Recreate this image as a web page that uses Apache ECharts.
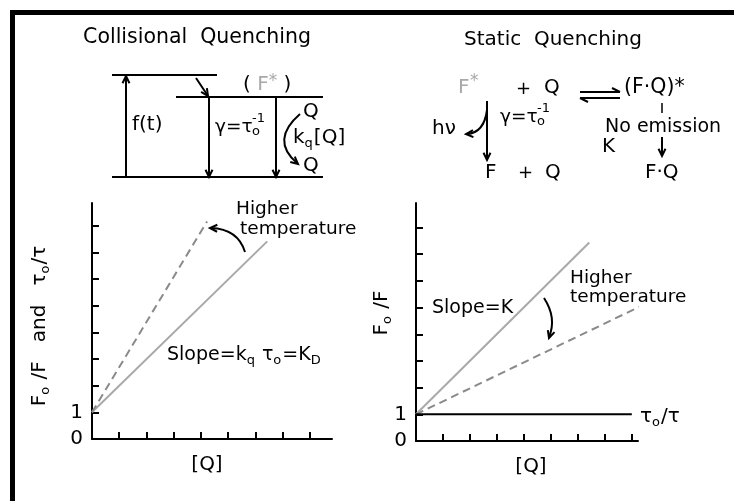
<!DOCTYPE html>
<html><head><meta charset="utf-8">
<script src="https://cdn.jsdelivr.net/npm/echarts@6/dist/echarts.min.js"></script>
<style>html,body{margin:0;padding:0;background:#fff}#c{width:734px;height:501px}</style>
</head><body><div id="c"></div>
<script>
// ---- data ----
const collisionalSolid = [[0, 1], [6.44, 7.41]];
const collisionalDashed = [[0, 1], [4.23, 8.16]];
const staticSolid = [[0, 1], [6.44, 7.44]];
const staticDashed = [[0, 1], [8.57, 5.16]];
const staticLifetime = [[0, 1], [8.02, 1]];
const qTicks = [1, 2, 3, 4, 5, 6, 7, 8];
const yTicks = [1, 2, 3, 4, 5, 6, 7, 8];
const yTickLabels = [0, 1];

const FONT = '"DejaVu Sans", sans-serif';
const GREY = '#a9a9a9';
const DGREY = '#8a8a8a';

function T(x, y, text, size, o) {
  o = o || {};
  return { type: 'text', x: x, y: y, rotation: o.rot || 0, z: 10,
    style: { text: text, font: (size) + 'px ' + FONT, fill: o.fill || '#000',
      textAlign: o.align || 'left', align: o.align || 'left',
      textVerticalAlign: o.va || 'middle', verticalAlign: o.va || 'middle',
      rich: o.rich } };
}
function L(x1, y1, x2, y2, w) {
  return { type: 'line', z: 10, shape: { x1: x1, y1: y1, x2: x2, y2: y2 },
    style: { stroke: '#000', lineWidth: w || 2 } };
}
function head(x, y, dx, dy, size) {
  size = size || 8;
  const len = Math.hypot(dx, dy), ux = -dx / len, uy = -dy / len, a = 0.45;
  const p1 = [x + size * (ux * Math.cos(a) - uy * Math.sin(a)), y + size * (ux * Math.sin(a) + uy * Math.cos(a))];
  const p2 = [x + size * (ux * Math.cos(-a) - uy * Math.sin(-a)), y + size * (ux * Math.sin(-a) + uy * Math.cos(-a))];
  return { type: 'polyline', z: 10, shape: { points: [p1, [x, y], p2] },
    style: { stroke: '#000', lineWidth: 2, fill: null } };
}
function curve(x1, y1, cx, cy, x2, y2) {
  return { type: 'bezierCurve', z: 10, shape: { x1: x1, y1: y1, cpx1: cx, cpy1: cy, x2: x2, y2: y2 },
    style: { stroke: '#000', lineWidth: 2, fill: null } };
}
function richSub(big, small) {
  return {
    n: { font: big + 'px ' + FONT, fill: '#000', lineHeight: 24 },
    s: { font: small + 'px ' + FONT, fill: '#000', verticalAlign: 'bottom', lineHeight: 13, padding: [0, 1, 0, 0] }
  };
}

const graphics = [
  // frame
  { type: 'rect', shape: { x: 10, y: 10, width: 724, height: 5 }, style: { fill: '#000' } },
  { type: 'rect', shape: { x: 10, y: 10, width: 5, height: 491 }, style: { fill: '#000' } },
  // titles
  T(197, 38, 'Collisional  Quenching', 20.5, { align: 'center' }),
  T(553, 40, 'Static  Quenching', 20, { align: 'center' }),
  // collisional energy diagram
  L(112, 75, 217, 75), L(176, 97, 323, 97), L(112, 177, 323, 177),
  L(126, 177, 126, 77), head(126, 76, 0, -1),
  T(132, 125, 'f(t)', 20),
  L(196, 78, 208, 96), head(208, 96, 12, 18),
  T(243, 85, '{b|(}{g| F}{gs|*}{b| )}', 20, { rich: {
    b: { font: '20px ' + FONT, fill: '#000' },
    g: { font: '20px ' + FONT, fill: GREY },
    gs: { font: '17px ' + FONT, fill: GREY, verticalAlign: 'top', lineHeight: 24 } } }),
  L(209, 97, 209, 176), head(209, 177, 0, 1),
  T(215, 127, 'γ=τ', 18.5), T(252, 132, 'o', 13), T(252, 119, '-1', 13),
  L(276, 97, 276, 176), head(276, 177, 0, 1),
  curve(300, 114, 270, 140, 297, 163), head(298, 164, 27, 23),
  T(303, 112, 'Q', 20),
  T(293, 138, '{n|k}{s|q}{n|[Q]}', 20, { rich: richSub(20, 13) }),
  T(303, 166, 'Q', 20),
  // static scheme
  T(458, 88, 'F', 20, { fill: GREY }), T(470, 82, '*', 17, { fill: GREY }),
  T(516, 89, '+', 18), T(544, 88, 'Q', 20),
  L(580, 92, 620, 92), L(612, 88, 620, 92),
  L(580, 98, 620, 98), L(580, 98, 588, 102),
  T(624, 88, '(F·Q)*', 20.5),
  L(662, 103, 662, 113, 1.5),
  T(605, 127, 'No emission', 19),
  L(662, 137, 662, 154), head(662, 156, 0, 1),
  T(602, 147, 'K', 20),
  L(487, 101, 487, 158), head(487, 160, 0, 1),
  curve(487, 110, 484, 133, 467, 134), head(466, 134, -17, 1),
  T(432, 129, 'hν', 20),
  T(500, 117, 'γ=τ', 18.5), T(537, 122, 'o', 13), T(537, 109, '-1', 13),
  T(485, 173, 'F', 20), T(518, 173, '+', 18), T(545, 173, 'Q', 20),
  T(645, 173, 'F·Q', 20),
  // left plot annotations
  T(236, 209, 'Higher', 18.5), T(240, 229, 'temperature', 18.5),
  curve(245, 252, 238, 229, 211, 228), head(210, 228, -27, -1),
  T(167, 355, '{n|Slope=k}{s|q}{n| τ}{s|o}{n|=K}{s|D}', 19, { rich: richSub(19, 13) }),
  T(207, 465, '[Q]', 20, { align: 'center' }),
  T(40, 326, '{n|F}{s|o}{n| /F   and   τ}{s|o}{n|/τ}', 20, { align: 'center', rot: Math.PI / 2, rich: richSub(20, 13) }),
  // right plot annotations
  T(570, 278, 'Higher', 18.5), T(570, 297, 'temperature', 18.5),
  curve(544, 298, 557, 318, 549, 337), head(549, 338, -6, 19),
  T(432, 308, 'Slope=K', 19),
  T(640, 417, '{n|τ}{s|o}{n|/τ}', 20, { rich: richSub(20, 13) }),
  T(531, 467, '[Q]', 20, { align: 'center' }),
  T(382, 313, '{n|F}{s|o}{n| /F}', 20, { align: 'center', rot: Math.PI / 2, rich: richSub(20, 13) })
];

function xAx(gi, max) {
  return { gridIndex: gi, type: 'value', min: 0, max: max, interval: 1,
    axisLine: { show: true, onZero: false, lineStyle: { color: '#000', width: 2 } },
    axisTick: { show: true, inside: true, length: 7, customValues: qTicks, lineStyle: { color: '#000', width: 2 } },
    axisLabel: { show: false }, splitLine: { show: false } };
}
function yAx(gi, max) {
  return { gridIndex: gi, type: 'value', min: 0, max: max, interval: 1,
    axisLine: { show: true, onZero: false, lineStyle: { color: '#000', width: 2 } },
    axisTick: { show: true, inside: true, length: 7, customValues: yTicks, lineStyle: { color: '#000', width: 2 } },
    axisLabel: { show: true, customValues: yTickLabels, margin: 9, color: '#000', fontSize: 20, fontFamily: FONT },
    splitLine: { show: false } };
}
function ser(xi, data, color, dashed) {
  return { type: 'line', xAxisIndex: xi, yAxisIndex: xi, data: data, symbol: 'none', clip: false,
    silent: true, animation: false,
    lineStyle: { color: color, width: 2, type: dashed ? [8, 5] : 'solid' } };
}

const chart = echarts.init(document.getElementById('c'), null, { renderer: 'canvas' });
chart.setOption({
  backgroundColor: '#fff',
  animation: false,
  grid: [
    { left: 92, top: 203, width: 240, height: 236 },
    { left: 416, top: 203, width: 222, height: 238 }
  ],
  xAxis: [xAx(0, 8.82), xAx(1, 8.25)],
  yAxis: [yAx(0, 8.85), yAx(1, 8.92)],
  series: [
    ser(0, collisionalSolid, GREY, false),
    ser(0, collisionalDashed, DGREY, true),
    ser(1, staticSolid, GREY, false),
    ser(1, staticDashed, DGREY, true),
    { type: 'line', xAxisIndex: 1, yAxisIndex: 1, data: staticLifetime, symbol: 'none', clip: false,
      silent: true, lineStyle: { color: '#000', width: 2 } }
  ],
  graphic: graphics
});
</script>
</body></html>
